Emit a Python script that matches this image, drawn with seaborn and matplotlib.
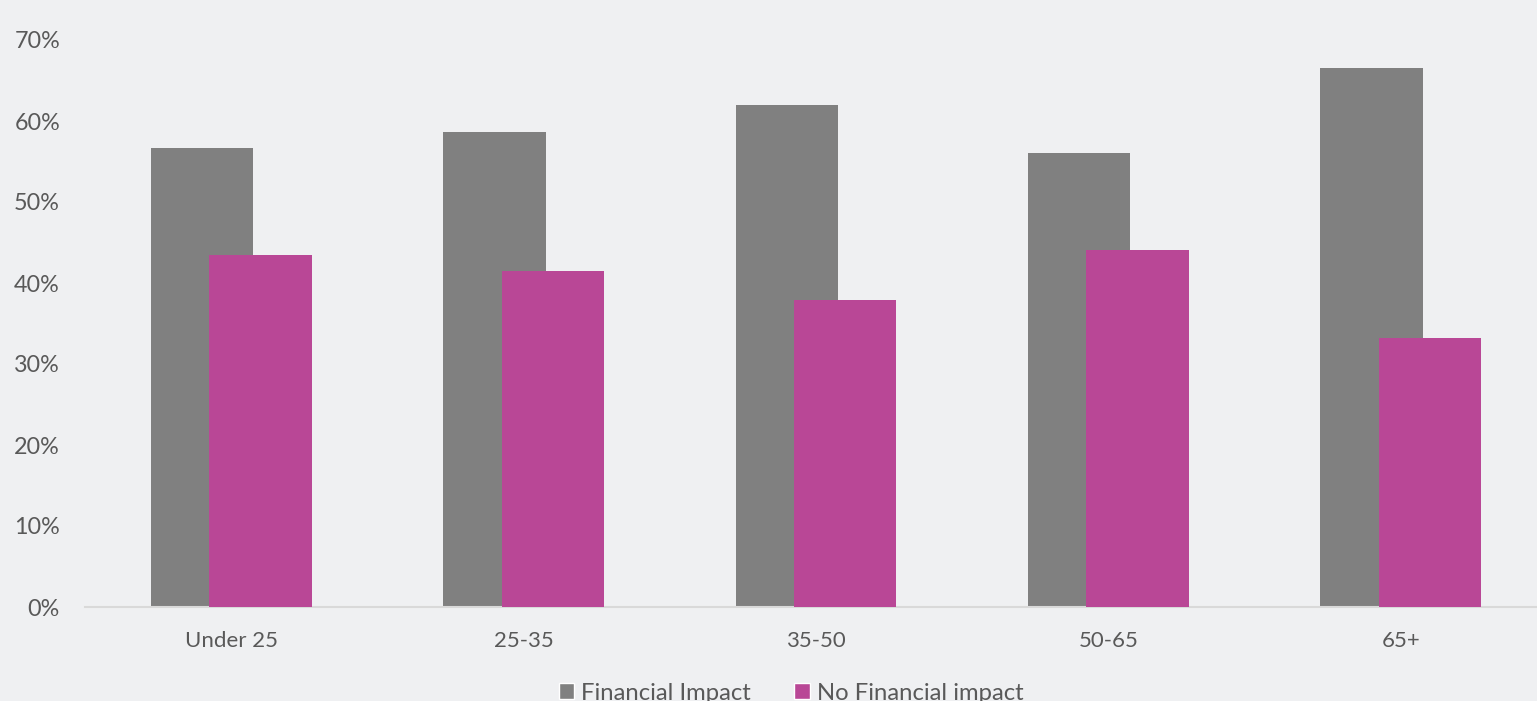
import matplotlib
matplotlib.use("Agg")
import matplotlib.pyplot as plt
import seaborn as sns
import pandas as pd
from matplotlib.patches import Patch

categories = ["Under 25", "25-35", "35-50", "50-65", "65+"]
financial_impact = [56.7, 58.6, 62.0, 56.0, 66.5]
no_financial_impact = [43.5, 41.5, 37.9, 44.1, 33.2]
series_names = ["Financial Impact", "No Financial impact"]
yticks = [0, 10, 20, 30, 40, 50, 60, 70]

BG = "#EFF0F2"
GREY = "#808080"
PINK = "#B94796"
TXT = "#595959"

sns.set_theme(style="white")
plt.rcParams["font.family"] = ["Lato", "DejaVu Sans"]

df = pd.DataFrame({
    "cat": categories * 2,
    "val": financial_impact + no_financial_impact,
    "series": [series_names[0]] * 5 + [series_names[1]] * 5,
})

fig = plt.figure(figsize=(15.37, 7.01), dpi=100, facecolor=BG)
ax = fig.add_axes([85 / 1537, 1 - 607 / 701, (1547 - 85) / 1537, (607 - 40) / 701])
ax.set_facecolor(BG)

sns.barplot(data=df, x="cat", y="val", hue="series", order=categories,
            hue_order=series_names, palette=[GREY, PINK], dodge=True,
            width=0.6, saturation=1, legend=False, ax=ax, errorbar=None)

# Excel-style overlapping bars
bar_w = 0.35
offsets = [-0.10, 0.10]
n = len(categories)
for i, p in enumerate(ax.patches[: 2 * n]):
    s = i // n
    c = i % n
    p.set_width(bar_w)
    p.set_x(c + offsets[s] - bar_w / 2)
    p.set_linewidth(0)
    p.set_zorder(2 + s)

ax.set_xlim(-0.5, 4.5)
ax.set_ylim(0, 70)
ax.set_yticks(yticks)
ax.set_yticklabels([f"{t}%" for t in yticks])
ax.set_xlabel("")
ax.set_ylabel("")
ax.tick_params(axis="both", length=0, colors=TXT)
ax.tick_params(axis="y", labelsize=16.8, pad=18)
ax.tick_params(axis="x", labelsize=16, pad=17)
for sp in ["top", "right", "left"]:
    ax.spines[sp].set_visible(False)
ax.spines["bottom"].set_color("#D9D9D9")
ax.spines["bottom"].set_linewidth(1.5)
ax.grid(False)

handles = [Patch(facecolor=GREY, label=series_names[0]),
           Patch(facecolor=PINK, label=series_names[1])]
leg = fig.legend(handles=handles, loc="center", bbox_to_anchor=(791 / 1537, 1 - 693 / 701),
                 ncol=2, frameon=False, fontsize=17.2, handlelength=0.65, handleheight=0.65,
                 handletextpad=0.3, columnspacing=1.8, labelcolor=TXT)

fig.savefig("out.png", dpi=100, facecolor=BG)
